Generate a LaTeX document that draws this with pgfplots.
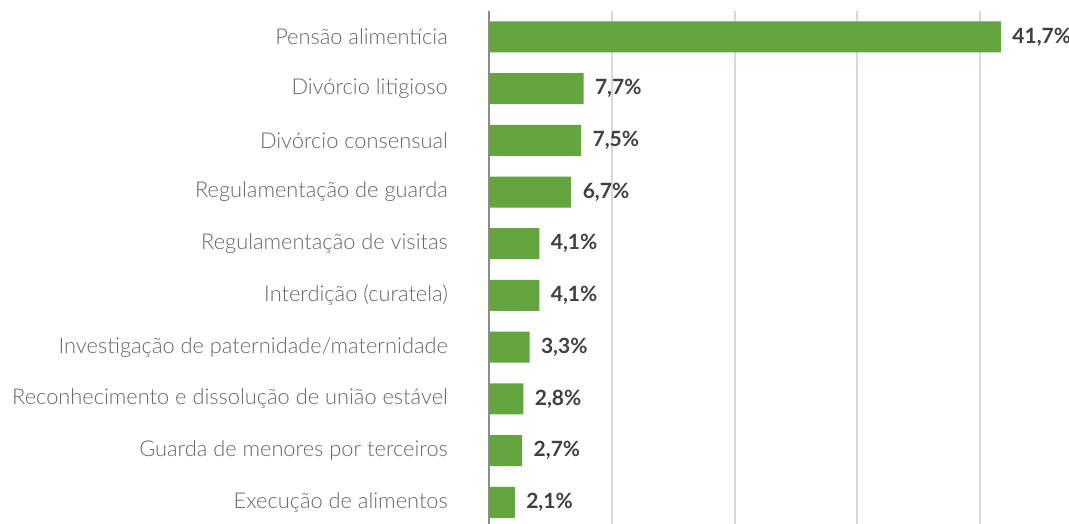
\documentclass[border=0pt]{standalone}
\usepackage{fontspec}
\setmainfont{Lato}
\newfontfamily\catfont{Lato Light}
\newfontfamily\valfont{Lato}
\usepackage{pgfplots}
\pgfplotsset{compat=1.18}
\definecolor{barg}{HTML}{64A540}
\definecolor{catgray}{HTML}{666666}
\definecolor{valgray}{HTML}{404040}
\definecolor{gridgray}{HTML}{D9D9D9}
\definecolor{axgray}{HTML}{8C8C8C}
\begin{document}
\begin{tikzpicture}
\useasboundingbox (0,0) rectangle (1069bp,524bp);
\begin{axis}[
  at={(489bp,0)}, anchor=south west,
  scale only axis, width=580bp, height=513bp,
  xbar, bar width=31bp,
  xmin=0, xmax=47.25,
  ymin=-0.5, ymax=9.42, y dir=reverse,
  clip=false,
  axis x line*=bottom,
  x axis line style={draw=none},
  axis y line*=left,
  y axis line style={draw=axgray, line width=2bp, -},
  ytick={0,...,9},
  yticklabels={Pensão alimentícia,Divórcio litigioso,Divórcio consensual,Regulamentação de guarda,Regulamentação de visitas,Interdição (curatela),Investigação de paternidade/maternidade,Reconhecimento e dissolução de união estável,Guarda de menores por terceiros,Execução de alimentos},
  major tick length=0pt,
  yticklabel style={font=\catfont\fontsize{21.8bp}{25bp}\selectfont, text=catgray, inner sep=0pt, xshift=-41bp, anchor=east},
  xtick={10,20,30,40},
  xticklabels={},
  xmajorgrids,
  grid style={draw=gridgray, line width=2bp},
  /pgf/number format/assume math mode=true,
  nodes near coords={\pgfmathprintnumber[fixed,fixed zerofill,precision=1,use comma,assume math mode=true]{\pgfplotspointmeta}\%},
  every node near coord/.append style={font=\valfont\bfseries\fontsize{21bp}{25bp}\selectfont, text=valgray, anchor=west, xshift=8bp},
]
\addplot[fill=barg, draw=none] coordinates {
(41.7,0) (7.7,1) (7.5,2) (6.7,3) (4.1,4) (4.1,5) (3.3,6) (2.8,7) (2.7,8) (2.1,9)
};
\end{axis}
\end{tikzpicture}
\end{document}
